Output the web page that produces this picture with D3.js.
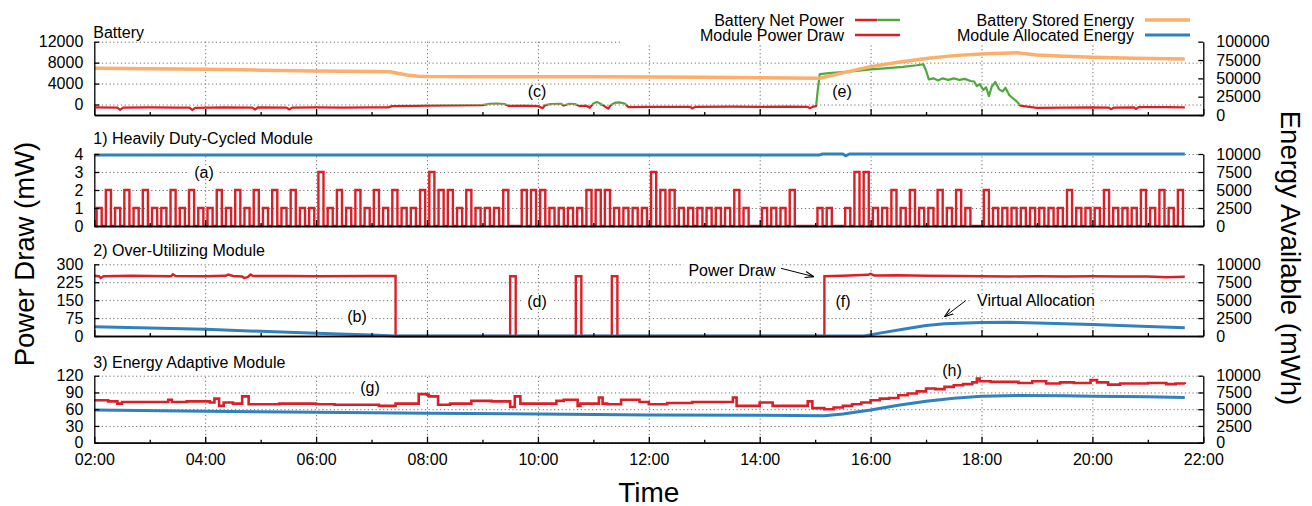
<!DOCTYPE html>
<html>
<head>
<meta charset="utf-8">
<script src="https://cdnjs.cloudflare.com/ajax/libs/d3/7.8.5/d3.min.js"></script>
<style>
  body { margin: 0; background: #fff; }
  svg text { font-family: "Liberation Sans", Arial, Helvetica, sans-serif; fill: #000; }
  .grid line { stroke: #6e6e6e; stroke-dasharray: 1.2 2.6; stroke-width: 1; }
  .grid path { display: none; }
  .axis path, .axis line { stroke: #000; stroke-width: 1.3; }
</style>
</head>
<body>
<svg></svg>
<script>
// ---------- data ----------
const xTickLabels = ["02:00", "04:00", "06:00", "08:00", "10:00", "12:00",
                     "14:00", "16:00", "18:00", "20:00", "22:00"];

// battery panel (left axis mW, right axis mWh)
const netPower = [
  ["02:00", -550], ["02:25", -600], ["02:28", -1000], ["02:31", -600], ["03:00", -550],
  ["03:30", -600], ["03:43", -600], ["03:46", -1050], ["03:49", -650], ["04:20", -550],
  ["04:51", -600], ["04:54", -950], ["04:57", -550], ["05:28", -600], ["05:31", -950],
  ["05:34", -600], ["06:00", -550], ["06:30", -600], ["07:00", -550], ["07:18", -550],
  ["07:22", -300], ["07:50", -250], ["08:00", -200], ["08:30", -150], ["09:00", -100],
  ["09:08", 150], ["09:15", 200], ["09:24", 100], ["09:28", -250], ["09:45", -200],
  ["10:00", -300], ["10:05", -700], ["10:08", -100], ["10:14", 100], ["10:25", 150],
  ["10:28", -200], ["10:34", 150], ["10:40", 100], ["10:45", -300], ["10:52", -200],
  ["10:56", -600], ["11:00", 200], ["11:04", 500], ["11:08", 100], ["11:12", -300],
  ["11:16", -800], ["11:19", -100], ["11:23", 300], ["11:28", 400], ["11:34", 200],
  ["11:38", -500], ["12:00", -450], ["12:45", -450], ["12:47", -750], ["12:50", -450],
  ["13:30", -400], ["14:00", -450], ["14:30", -400], ["14:52", -450], ["14:54", -700],
  ["14:57", -450], ["15:01", -300], ["15:03", 3000], ["15:05", 5800], ["15:15", 6000],
  ["15:30", 6200], ["15:45", 6400], ["16:00", 6700], ["16:15", 6900], ["16:35", 7200],
  ["16:50", 7500], ["16:57", 7700], ["17:00", 6500], ["17:03", 4800], ["17:08", 5000],
  ["17:13", 4600], ["17:18", 5000], ["17:24", 4700], ["17:30", 5000], ["17:36", 4700],
  ["17:42", 4900], ["17:48", 4500], ["17:52", 4400], ["17:55", 3500], ["17:58", 3900],
  ["18:02", 2800], ["18:05", 3300], ["18:08", 1600], ["18:11", 3400], ["18:15", 4300],
  ["18:19", 2900], ["18:23", 2500], ["18:26", 3200], ["18:30", 1800], ["18:34", 1200],
  ["18:38", 600], ["18:42", -200], ["18:50", -400], ["19:00", -650], ["19:30", -600],
  ["20:00", -550], ["20:18", -600], ["20:20", -900], ["20:23", -600], ["20:45", -550],
  ["20:47", -850], ["20:50", -500], ["21:20", -500], ["21:40", -550]
];
const storedEnergy = [
  ["02:00", 63800], ["03:00", 63100], ["04:00", 62300], ["05:00", 61200], ["06:00", 60000],
  ["07:00", 59300], ["07:20", 59000], ["07:28", 57000], ["07:38", 54500], ["07:50", 53000],
  ["08:00", 52400], ["09:00", 52300], ["10:00", 52300], ["11:00", 52100], ["12:00", 51800],
  ["13:00", 51400], ["14:00", 50900], ["15:00", 50100], ["15:06", 50500], ["15:30", 57500],
  ["16:00", 66000], ["16:30", 72000], ["17:00", 77000], ["17:30", 81000], ["18:00", 83200],
  ["18:38", 85000], ["19:00", 82000], ["19:30", 80000], ["20:00", 78700], ["20:45", 77300],
  ["21:40", 76400]
];

// 1) heavily duty-cycled module: one pulse level (mW) per 10-minute cycle from 02:00
const dutyLevels = [
  1, 2, 1, 2, 1, 2, 1, 1, 2, 1, 2, 1,
  1, 2, 1, 2, 1, 2, 1, 2, 1, 2, 1, 1,
  3, 1, 2, 1, 2, 1, 2, 1, 2, 1, 1, 2,
  3, 2, 2, 1, 2, 1, 1, 1, 2, 0, 2, 2,
  2, 1, 1, 1, 1, 2, 2, 2, 1, 1, 1, 1,
  3, 2, 2, 1, 1, 1, 1, 1, 1, 2, 1, 0,
  1, 1, 1, 2, 0, 0, 1, 1, 0, 1, 3, 3,
  1, 1, 2, 1, 2, 1, 1, 2, 1, 2, 1, 0,
  2, 1, 1, 1, 1, 1, 1, 1, 1, 2, 1, 1,
  1, 2, 1, 1, 1, 2, 1, 2, 1, 2
];
const dutyAlloc = [
  ["02:00", 9850], ["15:04", 9850], ["15:08", 10000], ["15:30", 10000], ["15:33", 9750],
  ["15:37", 10000], ["21:40", 10000]
];

// 2) over-utilizing module
const overDraw = [
  ["02:00", 252], ["02:05", 250], ["02:07", 243], ["02:10", 250], ["02:40", 252],
  ["03:00", 251], ["03:23", 250], ["03:25", 258], ["03:28", 251], ["04:00", 250],
  ["04:22", 252], ["04:25", 257], ["04:30", 251], ["04:40", 249], ["04:42", 243],
  ["04:46", 246], ["04:49", 257], ["04:52", 251], ["05:30", 251], ["06:00", 250],
  ["07:00", 251], ["07:26", 251], ["07:26", 0], ["09:30", 0], ["09:30", 250],
  ["09:36", 250], ["09:36", 0], ["10:41", 0], ["10:41", 250], ["10:47", 250],
  ["10:47", 0], ["11:20", 0], ["11:20", 250], ["11:26", 250], ["11:26", 0],
  ["15:10", 0], ["15:10", 250], ["15:30", 252], ["15:57", 256], ["16:00", 260],
  ["16:04", 253], ["16:30", 254], ["17:00", 252], ["17:30", 251], ["18:00", 250],
  ["18:30", 249], ["19:00", 250], ["19:30", 249], ["20:00", 250], ["20:30", 249],
  ["21:00", 249], ["21:20", 246], ["21:40", 248]
];
const overAlloc = [
  ["02:00", 1300], ["03:00", 1110], ["04:00", 930], ["05:00", 650], ["06:00", 380],
  ["07:00", 140], ["07:26", 0], ["15:53", 0], ["16:10", 400], ["16:35", 950],
  ["17:00", 1450], ["17:20", 1720], ["18:00", 1900], ["18:30", 1920], ["19:00", 1800],
  ["19:30", 1700], ["20:00", 1620], ["20:45", 1400], ["21:40", 1150]
];

// 3) energy adaptive module (held values, drawn as steps)
const adaptDraw = [
  ["02:00", 76], ["02:15", 74], ["02:25", 70], ["02:30", 73], ["03:20", 77], ["03:24", 73],
  ["03:40", 74], ["04:05", 72], ["04:10", 79], ["04:15", 66], ["04:20", 72], ["04:30", 70],
  ["04:40", 83], ["04:47", 69], ["05:20", 70], ["06:00", 69], ["06:20", 68], ["07:08", 66],
  ["07:26", 70], ["07:51", 87], ["08:00", 86], ["08:02", 83], ["08:12", 68], ["08:25", 70],
  ["08:48", 75], ["09:10", 74], ["09:30", 64], ["09:35", 83], ["09:41", 70], ["10:20", 75],
  ["10:28", 77], ["10:43", 66], ["10:46", 70], ["11:06", 81], ["11:10", 70], ["11:15", 69],
  ["11:30", 77], ["11:50", 73], ["12:00", 69], ["12:20", 71], ["12:47", 73], ["13:31", 81],
  ["13:35", 66], ["14:00", 72], ["14:14", 66], ["14:52", 74], ["14:57", 62], ["15:10", 60],
  ["15:20", 63], ["15:30", 66], ["15:40", 69], ["15:50", 72], ["16:00", 76], ["16:10", 79],
  ["16:20", 80], ["16:30", 85], ["16:40", 88], ["16:50", 92], ["17:00", 97], ["17:10", 96],
  ["17:20", 100], ["17:30", 103], ["17:40", 105], ["17:50", 108], ["17:55", 115],
  ["17:58", 110], ["18:10", 109], ["18:40", 107], ["18:55", 110], ["19:10", 106],
  ["19:25", 108], ["19:40", 107], ["19:58", 112], ["20:05", 108], ["20:17", 104],
  ["20:30", 106], ["21:00", 107], ["21:20", 105], ["21:30", 106], ["21:40", 105]
];
const adaptAlloc = [
  ["02:00", 4880], ["04:00", 4680], ["06:00", 4530], ["08:00", 4400], ["10:00", 4280],
  ["12:00", 4150], ["14:00", 4100], ["15:10", 4030], ["15:30", 4300], ["16:00", 4880],
  ["16:30", 5600], ["17:00", 6200], ["17:30", 6650], ["18:00", 6950], ["18:40", 7050],
  ["19:30", 7000], ["20:00", 6950], ["21:00", 6850], ["21:40", 6750]
];

// ---------- chart ----------
const width = 1312, height = 506;
const left = 94.3, right = 1203.3;
const red = "#dc1f26", green = "#4fa83d", orange = "#fdae6b", blue = "#3181bd";
const fontSmall = 16;

const parseT = d3.timeParse("%H:%M");
const svg = d3.select("svg").attr("width", width).attr("height", height);

const x = d3.scaleTime().domain([parseT("02:00"), parseT("22:00")]).range([left, right]);
const majorTimes = xTickLabels.map(parseT);
const gridTimes = majorTimes.slice(1, -1);
const minorTimes = d3.timeHour.range(parseT("02:00"), parseT("22:00")).filter((d, i) => i % 2 == 1);

const panelDefs = [
  {top: 41.7, bottom: 115, title: "Battery", titleY: 37.5,
   yDomain: [-2000, 12000], yTicks: [0, 4000, 8000, 12000], y2Ticks: [0, 25000, 50000, 75000, 100000]},
  {top: 154, bottom: 226, title: "1) Heavily Duty-Cycled Module", titleY: 144,
   yDomain: [0, 4], yTicks: [0, 1, 2, 3, 4], y2Ticks: [0, 2500, 5000, 7500, 10000]},
  {top: 264.3, bottom: 336, title: "2) Over-Utilizing Module", titleY: 256,
   yDomain: [0, 300], yTicks: [0, 75, 150, 225, 300], y2Ticks: [0, 2500, 5000, 7500, 10000]},
  {top: 375.7, bottom: 442.7, title: "3) Energy Adaptive Module", titleY: 368,
   yDomain: [0, 120], yTicks: [0, 30, 60, 90, 120], y2Ticks: [0, 2500, 5000, 7500, 10000]}
];

const panels = panelDefs.map(p => {
  const y = d3.scaleLinear().domain(p.yDomain).range([p.bottom, p.top]);
  const y2 = d3.scaleLinear().domain([0, p.y2Ticks[p.y2Ticks.length - 1]]).range([p.bottom, p.top]);
  svg.append("g").attr("class", "grid").attr("transform", `translate(0,${p.bottom})`)
    .call(d3.axisBottom(x).tickValues(gridTimes).tickSize(-(p.bottom - p.top)).tickFormat(""));
  svg.append("g").attr("class", "grid").attr("transform", `translate(${left},0)`)
    .call(d3.axisLeft(y).tickValues(p.yTicks).tickSize(-(right - left)).tickFormat(""));
  svg.append("text").attr("x", left - 1).attr("y", p.titleY).attr("font-size", fontSmall).text(p.title);
  return {...p, y, y2};
});

// white legend box hides the top grid line on the right
svg.append("rect").attr("x", 620).attr("y", 0).attr("width", 600).attr("height", 43.5).attr("fill", "#fff");

const addLine = (data, xs, ys, color, w, clip, curve) => {
  const line = d3.line().x(d => xs(d[0])).y(d => ys(d[1])).curve(curve || d3.curveLinear);
  const path = svg.append("path").datum(data).attr("d", line)
    .attr("fill", "none").attr("stroke", color).attr("stroke-width", w)
    .attr("stroke-linejoin", "round");
  if (clip) path.attr("clip-path", `url(#${clip})`);
  return path;
};
const asTime = arr => arr.map(d => [parseT(d[0]), d[1]]);

// battery panel: net power red below zero, green above
const p0 = panels[0];
const defs = svg.append("defs");
defs.append("clipPath").attr("id", "above").append("rect")
  .attr("x", 0).attr("y", 0).attr("width", width).attr("height", p0.y(0));
defs.append("clipPath").attr("id", "below").append("rect")
  .attr("x", 0).attr("y", p0.y(0)).attr("width", width).attr("height", height);
addLine(asTime(netPower), x, p0.y, red, 2.2, "below");
addLine(asTime(netPower), x, p0.y, green, 2.2, "above");
addLine(asTime(storedEnergy), x, p0.y2, orange, 3.5);

// panel 1: square pulses built from the per-cycle levels
const start = parseT("02:00");
const dutyPts = [];
dutyLevels.forEach((lv, k) => {
  const t0 = +start + k * 600000;
  dutyPts.push([new Date(t0), 0], [new Date(t0 + 150000), 0], [new Date(t0 + 150000), lv],
               [new Date(t0 + 480000), lv], [new Date(t0 + 480000), 0]);
});
dutyPts.push([new Date(+start + dutyLevels.length * 600000), 0]);
addLine(dutyPts, x, panels[1].y, red, 2.4).attr("stroke-linejoin", "miter");
addLine(asTime(dutyAlloc), x, panels[1].y2, blue, 3);

// panel 2
addLine(asTime(overDraw), x, panels[2].y, red, 2.4).attr("stroke-linejoin", "miter");
addLine(asTime(overAlloc), x, panels[2].y2, blue, 3);

// panel 3
addLine(asTime(adaptDraw), x, panels[3].y, red, 2.6, null, d3.curveStepAfter).attr("stroke-linejoin", "miter");
addLine(asTime(adaptAlloc), x, panels[3].y2, blue, 3);

// axes on top
const styleAxis = g => g.attr("class", "axis").attr("font-size", fontSmall)
  .attr("font-family", "Liberation Sans, Arial, sans-serif");
const num = d3.format("d");
panels.forEach((p, i) => {
  svg.append("g").attr("transform", `translate(${left},0)`)
    .call(d3.axisLeft(p.y).tickValues(p.yTicks).tickFormat(num).tickSize(-5).tickSizeOuter(0).tickPadding(11))
    .call(styleAxis);
  svg.append("g").attr("transform", `translate(${right},0)`)
    .call(d3.axisRight(p.y2).tickValues(p.y2Ticks).tickFormat(num).tickSize(-5).tickSizeOuter(0).tickPadding(13))
    .call(styleAxis);
  svg.append("g").attr("transform", `translate(0,${p.bottom})`)
    .call(d3.axisBottom(x).tickValues(minorTimes).tickSize(-3).tickSizeOuter(0).tickFormat(""))
    .call(styleAxis);
  svg.append("g").attr("transform", `translate(0,${p.bottom})`)
    .call(d3.axisBottom(x).tickValues(majorTimes).tickSize(-6).tickSizeOuter(0).tickPadding(11)
      .tickFormat(i == 3 ? d3.timeFormat("%H:%M") : ""))
    .call(styleAxis);
});
svg.selectAll(".axis text").attr("fill", "#000");

// axis titles
svg.append("text").attr("font-size", 27.5).attr("text-anchor", "middle")
  .attr("transform", "translate(34,254) rotate(-90)").text("Power Draw (mW)");
svg.append("text").attr("font-size", 27.5).attr("text-anchor", "middle")
  .attr("transform", "translate(1281,258) rotate(90)").text("Energy Available (mWh)");
svg.append("text").attr("font-size", 28).attr("text-anchor", "middle")
  .attr("x", (left + right) / 2).attr("y", 501.5).text("Time");

// legend
const legend = [
  {label: "Battery Net Power", x: 844, y: 20, colors: [red, green], w: 2.5},
  {label: "Module Power Draw", x: 844, y: 35, colors: [red], w: 2.5},
  {label: "Battery Stored Energy", x: 1134, y: 20, colors: [orange], w: 3.5},
  {label: "Module Allocated Energy", x: 1134, y: 35, colors: [blue], w: 3}
];
legend.forEach(l => {
  svg.append("text").attr("x", l.x).attr("y", l.y).attr("dy", "0.35em")
    .attr("text-anchor", "end").attr("font-size", fontSmall).text(l.label);
  const x0 = l.x + 11, len = 45, seg = len / l.colors.length;
  l.colors.forEach((c, j) => {
    svg.append("line").attr("x1", x0 + j * seg).attr("x2", x0 + (j + 1) * seg)
      .attr("y1", l.y).attr("y2", l.y).attr("stroke", c).attr("stroke-width", l.w);
  });
});

// annotations with white boxes
const notes = [
  ["(a)", 204, 172], ["(b)", 357, 316.7], ["(c)", 537, 91.5], ["(d)", 537, 301.7],
  ["(e)", 842, 91.5], ["(f)", 843, 301.7], ["(g)", 370, 387.7], ["(h)", 952, 370],
  ["Power Draw", 732, 270], ["Virtual Allocation", 1036, 300.7]
];
notes.forEach(n => {
  const t = svg.append("text").attr("x", n[1]).attr("y", n[2]).attr("dy", "0.35em")
    .attr("text-anchor", "middle").attr("font-size", fontSmall).text(n[0]);
  const b = t.node().getBBox();
  svg.insert("rect", () => t.node()).attr("x", b.x - 5).attr("y", n[2] - 6.5)
    .attr("width", b.width + 10).attr("height", 13).attr("fill", "#fff");
});

defs.append("marker").attr("id", "arrow").attr("viewBox", "0 0 10 10").attr("refX", 10).attr("refY", 5)
  .attr("markerWidth", 9).attr("markerHeight", 9).attr("orient", "auto-start-reverse")
  .attr("markerUnits", "userSpaceOnUse")
  .append("path").attr("d", "M0,1.5 L10,5 L0,8.5").attr("fill", "none").attr("stroke", "#000").attr("stroke-width", 1.3);
[[781, 268.3, 814, 276.7], [965.6, 300.7, 944.6, 316.7]].forEach(a => {
  svg.append("line").attr("x1", a[0]).attr("y1", a[1]).attr("x2", a[2]).attr("y2", a[3])
    .attr("stroke", "#000").attr("stroke-width", 1).attr("marker-end", "url(#arrow)");
});
</script>
</body>
</html>
